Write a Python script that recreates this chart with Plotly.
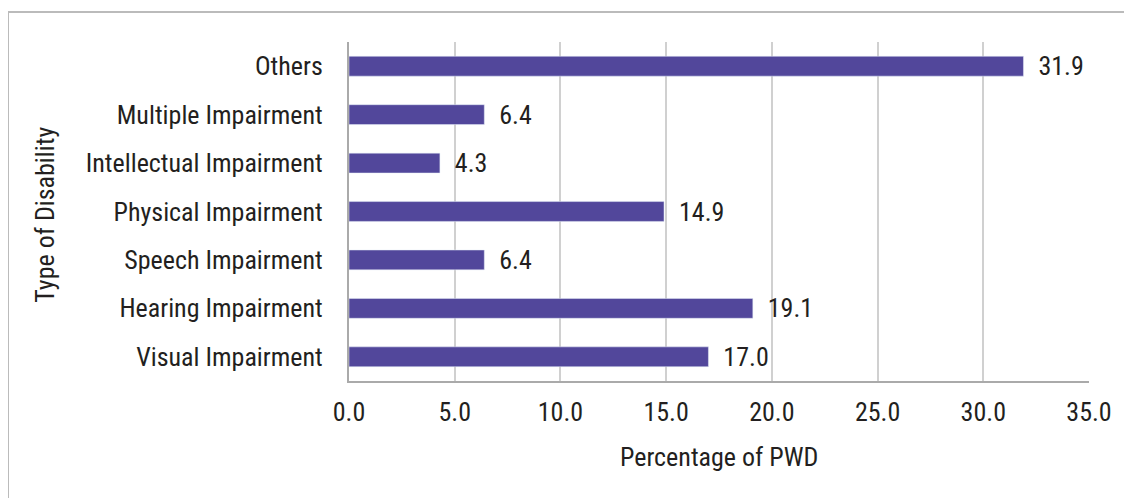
import plotly.graph_objects as go

# Data (bottom to top as drawn)
categories = ["Visual Impairment", "Hearing Impairment", "Speech Impairment",
              "Physical Impairment", "Intellectual Impairment",
              "Multiple Impairment", "Others"]
percentages = [17.0, 19.1, 6.4, 14.9, 4.3, 6.4, 31.9]
tick_values = [0, 5, 10, 15, 20, 25, 30, 35]

font_family = "Roboto Condensed, Liberation Sans Narrow, DejaVu Sans Condensed, sans-serif"
text_color = "#231f20"
bar_color = "#52479B"
fsize = 26
fweight = 400

fig = go.Figure()

fig.add_trace(
    go.Bar(
        x=percentages,
        y=categories,
        orientation="h",
        marker_color=bar_color,
        width=0.41,
        text=["\u00a0\u00a0" + f"{v:.1f}" for v in percentages],
        textposition="outside",
        constraintext="none",
        textfont=dict(size=fsize, color=text_color, family=font_family, weight=fweight),
        cliponaxis=False,
    )
)

fig.update_xaxes(
    range=[0, 35],
    tickvals=tick_values,
    ticktext=[f"{v:.1f}" for v in tick_values],
    showgrid=True,
    gridcolor="#d0d0d0",
    gridwidth=2,
    showline=True,
    linecolor="#aaaaaa",
    linewidth=2,
    zeroline=False,
    ticks="",
    ticklabelstandoff=7,
    tickfont=dict(size=fsize, color=text_color, family=font_family, weight=fweight),
)

fig.update_yaxes(
    showline=True,
    linecolor="#aaaaaa",
    linewidth=2,
    showgrid=False,
    ticks="",
    ticklabelstandoff=19,
    tickfont=dict(size=fsize, color=text_color, family=font_family, weight=fweight),
)

# Axis titles
fig.add_annotation(
    text="Percentage of PWD", xref="paper", yref="paper",
    x=0.5, y=-0.224, showarrow=False, yanchor="middle",
    font=dict(size=fsize, color=text_color, family=font_family, weight=fweight),
)
fig.add_annotation(
    text="Type of Disability", xref="paper", yref="paper",
    x=-0.411, y=0.49, showarrow=False, textangle=-90, xanchor="center",
    font=dict(size=fsize, color=text_color, family=font_family, weight=fweight),
)

# Outer frame
fig.add_shape(
    type="rect", xref="paper", yref="paper",
    x0=-0.4608, x1=1.2, y0=-0.5, y1=1.0885,
    line=dict(color="#bbbbbb", width=2), fillcolor="rgba(0,0,0,0)",
)

fig.update_layout(
    width=1132,
    height=498,
    margin={"l": 341, "r": 51, "t": 34, "b": 125},
    plot_bgcolor="white",
    paper_bgcolor="white",
    showlegend=False,
)

fig.write_html("out.html")
